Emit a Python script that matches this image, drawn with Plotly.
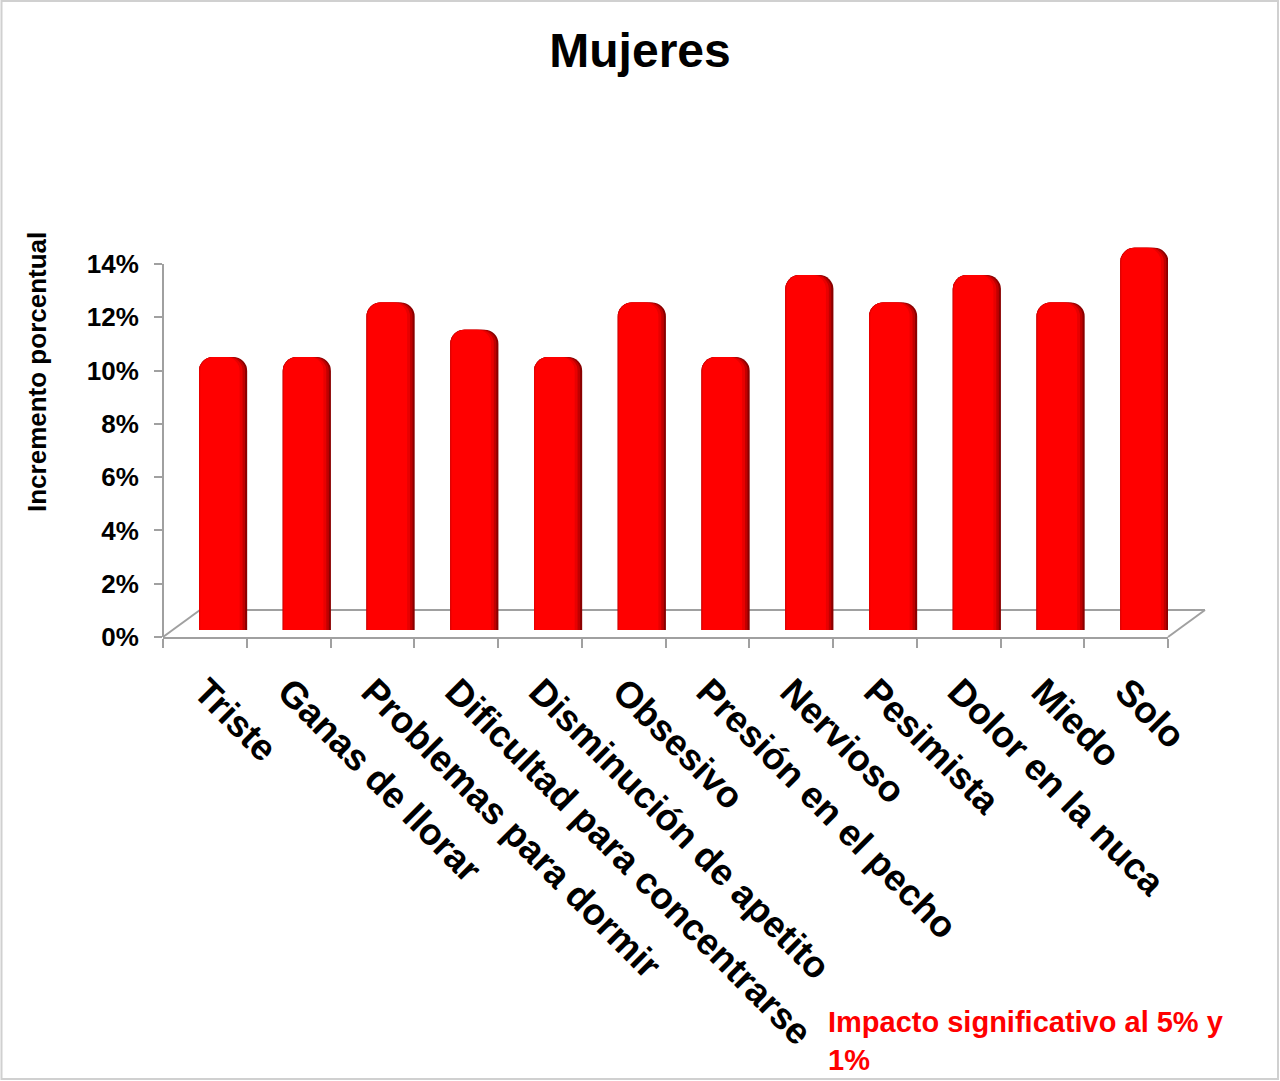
import plotly.graph_objects as go

categories = ["Triste", "Ganas de llorar", "Problemas para dormir", "Dificultad para concentrarse",
              "Disminución de apetito", "Obsesivo", "Presión en el pecho", "Nervioso",
              "Pesimista", "Dolor en la nuca", "Miedo", "Solo"]
values = [10, 10, 12, 11, 10, 12, 10, 13, 12, 13, 12, 14]
y_ticks = [0, 2, 4, 6, 8, 10, 12, 14]
y_tick_labels = [f"{v}%" for v in y_ticks]

W, H = 1280, 1081
L, R, T, B = 163, 112, 236, 444
PW, PH = W - L - R, H - T - B
PX_PER_PCT = (637 - 264) / 14.0  # tick axis scale

def px(x):
    return (x - L) / PW

def py(y):
    return (H - B - y) / PH

FONT = "Liberation Sans, Arial, sans-serif"
AX = "#a0a0a0"

fig = go.Figure()

# invisible trace on the tick axis so that it is drawn
fig.add_trace(go.Scatter(x=categories, y=values, mode="markers", marker=dict(opacity=0),
                         showlegend=False, hoverinfo="skip"))

# cylinder-like bars: layered shades (projected 3D column on a second scale)
layers = [("#8a0000", 0.575, -0.07), ("#c00000", 0.55, -0.07), ("#e80000", 0.52, -0.07),
          ("#ff0000", 0.47, -0.055)]
for col, w, off in layers:
    fig.add_trace(go.Bar(
        x=categories, y=values, width=w, offset=off, yaxis="y2",
        marker=dict(color=col, cornerradius=14, line=dict(width=0)),
        showlegend=False, hoverinfo="x+y"))

y_top = (637 - T) / PX_PER_PCT
bar_scale = 27.3
y2_lo = -(637 - 630) / bar_scale
y2_hi = (630 - T) / bar_scale

fig.update_layout(
    width=W, height=H,
    margin=dict(l=L, r=R, t=T, b=B),
    paper_bgcolor="white", plot_bgcolor="white",
    barmode="overlay",
    title=dict(text="Mujeres", x=0.5, xanchor="center", y=1 - 50 / H, yanchor="middle",
               font=dict(family=FONT, size=48, color="black", weight="bold")),
    xaxis=dict(type="category", range=[-0.5, len(categories) - 0.5], showline=True,
               linecolor=AX, linewidth=2,
               ticks="outside", tickson="boundaries", ticklen=9, tickcolor=AX, tickwidth=2,
               tickangle=45, showgrid=False, zeroline=False, ticklabelstandoff=16,
               tickfont=dict(family=FONT, size=37, color="black", weight="bold")),
    yaxis=dict(range=[0, y_top], tickvals=y_ticks, ticktext=y_tick_labels,
               showline=False, ticks="outside", ticklen=8,
               tickcolor=AX, tickwidth=2, showgrid=False, zeroline=False,
               ticklabelstandoff=10,
               tickfont=dict(family=FONT, size=26, color="black", weight="bold")),
    yaxis2=dict(overlaying="y", range=[y2_lo, y2_hi], visible=False, showgrid=False),
    font=dict(family=FONT),
)

# y axis line up to the top tick
fig.add_shape(type="line", xref="paper", yref="y", x0=0, x1=0, y0=0, y1=y_ticks[-1],
              line=dict(color=AX, width=2))

# 3D floor outline
fl = dict(color=AX, width=2)
fig.add_shape(type="line", xref="paper", yref="paper", x0=px(163), y0=py(637), x1=px(200), y1=py(610), line=fl, layer="below")
fig.add_shape(type="line", xref="paper", yref="paper", x0=px(200), y0=py(610), x1=px(1205), y1=py(610), line=fl, layer="below")
fig.add_shape(type="line", xref="paper", yref="paper", x0=px(1168), y0=py(637), x1=px(1205), y1=py(610), line=fl, layer="below")

# outer border
fig.add_shape(type="rect", xref="paper", yref="paper", x0=px(1.5), y0=py(1079), x1=px(1278), y1=py(1),
              line=dict(color="#d0d0d0", width=2), fillcolor="rgba(0,0,0,0)")

# y axis title
fig.add_annotation(text="Incremento porcentual", xref="paper", yref="paper",
                   x=px(37), y=py(372), textangle=-90, showarrow=False,
                   xanchor="center", yanchor="middle",
                   font=dict(family=FONT, size=26, color="black", weight="bold"))

# note
fig.add_annotation(text="Impacto significativo al 5% y<br>1%", xref="paper", yref="paper",
                   x=px(826), y=py(1004), xanchor="left", yanchor="top", align="left",
                   showarrow=False,
                   font=dict(family=FONT, size=29, color="#ff0000", weight="bold"))

fig.write_html("out.html", config={"displayModeBar": False},
               post_script="document.body.style.margin='0';document.body.style.overflow='hidden';")
